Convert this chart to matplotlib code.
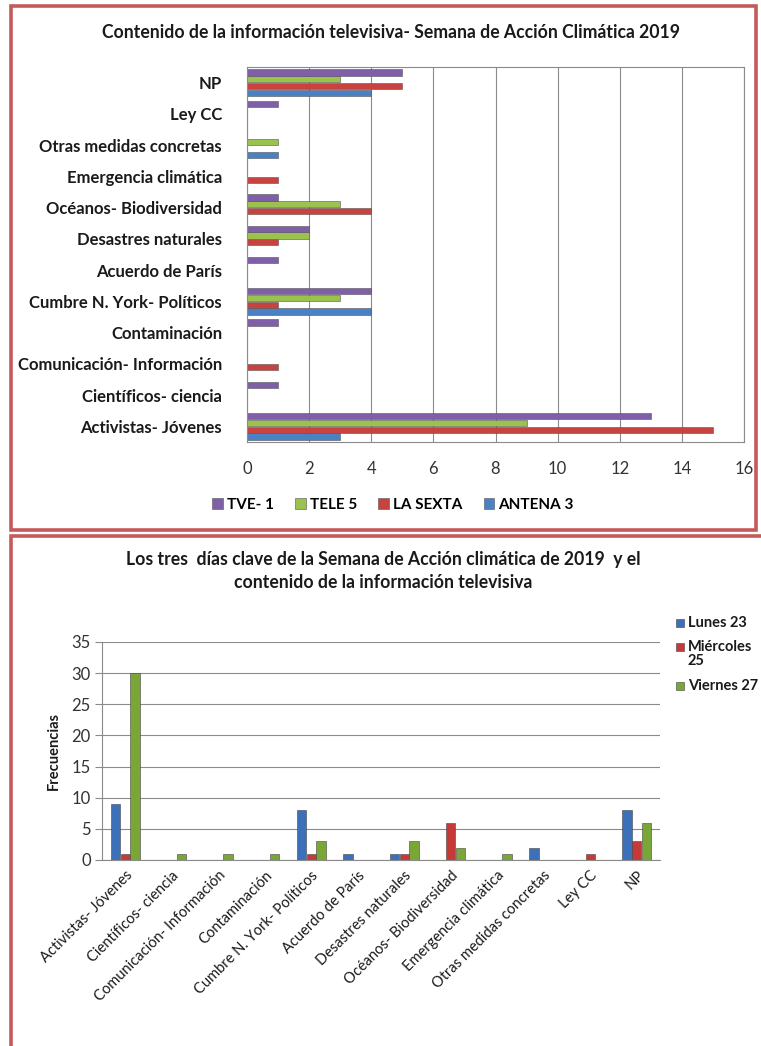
import matplotlib
matplotlib.use("Agg")
import matplotlib.pyplot as plt
from matplotlib.patches import Rectangle
import numpy as np

plt.rcParams['font.family'] = ['Lato', 'DejaVu Sans']

W, H = 761, 1046

# ---------------- data ----------------
categories = ["Activistas- Jóvenes", "Científicos- ciencia", "Comunicación- Información",
              "Contaminación", "Cumbre N. York- Políticos", "Acuerdo de París",
              "Desastres naturales", "Océanos- Biodiversidad", "Emergencia climática",
              "Otras medidas concretas", "Ley CC", "NP"]

antena3 = [3, 0, 0, 0, 4, 0, 0, 0, 0, 1, 0, 4]
la_sexta = [15, 0, 1, 0, 1, 0, 1, 4, 1, 0, 0, 5]
tele5 = [9, 0, 0, 0, 3, 0, 2, 3, 0, 1, 0, 3]
tve1 = [13, 1, 0, 1, 4, 1, 2, 1, 0, 0, 1, 5]
channels = ["TVE- 1", "TELE 5", "LA SEXTA", "ANTENA 3"]

lunes = [9, 0, 0, 0, 8, 1, 1, 0, 0, 2, 0, 8]
miercoles = [1, 0, 0, 0, 1, 0, 1, 6, 0, 0, 1, 3]
viernes = [30, 1, 1, 1, 3, 0, 3, 2, 1, 0, 0, 6]
days = ["Lunes 23", "Miércoles\n25", "Viernes 27"]

title1 = "Contenido de la información televisiva- Semana de Acción Climática 2019"
title2 = "Los tres  días clave de la Semana de Acción climática de 2019  y el\ncontenido de la información televisiva"

c_purple, c_green, c_red, c_blue = "#7E5FA8", "#9BC24E", "#C8423F", "#4A80C4"
d_blue, d_red, d_green = "#3C70B8", "#C53A37", "#7AA637"
frame = "#C45B5B"
txt = "#1a1a1a"

fig = plt.figure(figsize=(W / 100, H / 100), dpi=100)


def ax_px(x0, y0, x1, y1):
    return fig.add_axes([x0 / W, 1 - y1 / H, (x1 - x0) / W, (y1 - y0) / H])


# frames
fig.patches.append(Rectangle((11 / W, 1 - 530 / H), 745 / W, 524 / H, transform=fig.transFigure,
                             fill=False, edgecolor=frame, linewidth=2.6))
fig.patches.append(Rectangle((11 / W, -0.05), 1.0, (1 - 536 / H) + 0.05, transform=fig.transFigure,
                             fill=False, edgecolor=frame, linewidth=2.6))

# ---------------- top chart ----------------
ax1 = ax_px(247, 67, 744, 442)
y = np.arange(len(categories))
h = 0.215
series = [(antena3, c_blue, -1.5), (la_sexta, c_red, -0.5), (tele5, c_green, 0.5), (tve1, c_purple, 1.5)]
for vals, col, off in series:
    ax1.barh(y + off * h, vals, height=h * 0.92, color=col, edgecolor="#555555", linewidth=0.4)
ax1.set_xlim(0, 16)
ax1.set_ylim(-0.5, len(categories) - 0.5)
ax1.set_xticks(range(0, 17, 2))
ax1.set_yticks(y)
ax1.set_yticklabels(categories, fontsize=12, fontweight="bold", color=txt)
ax1.tick_params(axis="y", length=0, pad=18)
ax1.tick_params(axis="x", length=0, pad=14, labelsize=12, labelcolor="#333333")
ax1.grid(axis="x", color="#8a8a8a", linewidth=0.8)
ax1.set_axisbelow(True)
for s in ax1.spines.values():
    s.set_color("#8a8a8a")
    s.set_linewidth(0.8)

fig.text(391 / W, 1 - 33 / H, title1, ha="center", va="center", fontsize=12.7,
         fontweight="bold", color=txt)

# top legend
leg_items = [(channels[0], c_purple), (channels[1], c_green), (channels[2], c_red), (channels[3], c_blue)]
handles = [Rectangle((0, 0), 1, 1, facecolor=c, edgecolor="#555555", linewidth=0.4) for _, c in leg_items]
fig.legend(handles, [n for n, _ in leg_items], loc="center", bbox_to_anchor=(393 / W, 1 - 505 / H),
           ncol=4, frameon=False, handlelength=0.7, handleheight=0.7, handletextpad=0.25,
           columnspacing=1.4, prop={"weight": "bold", "size": 11})

# ---------------- bottom chart ----------------
ax2 = ax_px(102, 642, 660, 860)
x = np.arange(len(categories))
w = 0.215
for vals, col, off in [(lunes, d_blue, -1), (miercoles, d_red, 0), (viernes, d_green, 1)]:
    ax2.bar(x + off * w, vals, width=w * 0.95, color=col, edgecolor="#444444", linewidth=0.4)
ax2.set_ylim(0, 35)
ax2.set_xlim(-0.5, len(categories) - 0.5)
ax2.set_yticks(range(0, 36, 5))
ax2.grid(axis="y", color="#8a8a8a", linewidth=0.8)
ax2.set_axisbelow(True)
for k in ["top", "right"]:
    ax2.spines[k].set_visible(False)
for k in ["left", "bottom"]:
    ax2.spines[k].set_color("#8a8a8a")
    ax2.spines[k].set_linewidth(0.8)
ax2.tick_params(axis="y", length=5, color="#8a8a8a", labelsize=12, labelcolor="#333333", pad=3)
ax2.set_xticks(x)
ax2.set_xticklabels(categories, rotation=45, ha="right", rotation_mode="anchor",
                    fontsize=10.5, color=txt)
ax2.tick_params(axis="x", length=0, pad=6)
ax2.set_ylabel("Frecuencias", fontsize=10.5, fontweight="bold", color=txt, labelpad=8)

fig.text(383 / W, 1 - 571 / H, title2, ha="center", va="center", fontsize=12.7,
         fontweight="bold", color=txt, linespacing=1.45)

# bottom legend
leg_y = [623, 647, 686]
for (lab, col), yy in zip(zip(days, [d_blue, d_red, d_green]), leg_y):
    fig.patches.append(Rectangle((676 / W, 1 - (yy + 4) / H), 8 / W, 8 / H, transform=fig.transFigure,
                                 facecolor=col, edgecolor="#444444", linewidth=0.4))
    fig.text(688 / W, 1 - yy / H + (7 / H if "\n" in lab else 0), lab, ha="left",
             va="top" if "\n" in lab else "center",
             fontsize=10.5, fontweight="bold", color=txt, linespacing=1.0)

fig.savefig("out.png", dpi=100)
